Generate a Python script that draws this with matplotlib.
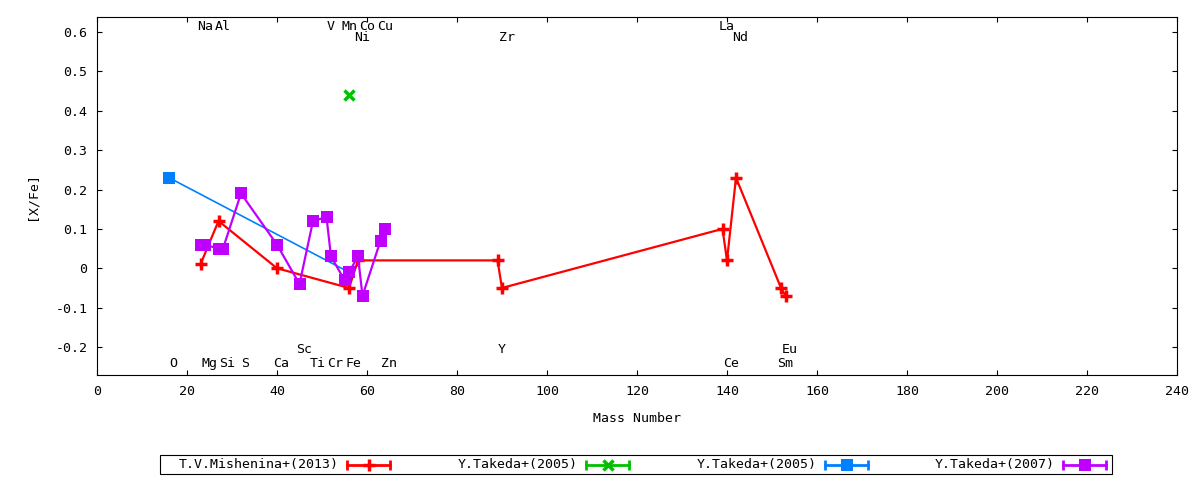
import matplotlib
matplotlib.use("Agg")
import matplotlib.pyplot as plt
from matplotlib.lines import Line2D
from matplotlib.patches import Rectangle
from matplotlib.ticker import FuncFormatter

plt.rcParams['font.family'] = ['DejaVu Sans Mono']
plt.rcParams['font.size'] = 9.5

# data
mish_mass = [23, 27, 40, 56, 58, 89, 90, 139, 140, 142, 152, 153]
mish_val = [0.01, 0.12, 0.00, -0.05, 0.02, 0.02, -0.05, 0.10, 0.02, 0.23, -0.05, -0.07]

tak05a_mass = [56]
tak05a_val = [0.44]

tak05b_mass = [16, 56]
tak05b_val = [0.23, -0.01]

tak07_mass = [23, 24, 27, 28, 32, 40, 45, 48, 51, 52, 55, 56, 58, 59, 63, 64]
tak07_val = [0.06, 0.06, 0.05, 0.05, 0.19, 0.06, -0.04, 0.12, 0.13, 0.03,
             -0.03, -0.01, 0.03, -0.07, 0.07, 0.10]

# element labels: name, mass number, row
elem_names = ['Na', 'Al', 'V', 'Mn', 'Co', 'Cu', 'La',
              'Ni', 'Zr', 'Nd',
              'O', 'Mg', 'Si', 'S', 'Ca', 'Ti', 'Cr', 'Fe', 'Zn', 'Ce', 'Sm',
              'Sc', 'Y', 'Eu']
elem_mass = [23, 27, 51, 55, 59, 63, 139,
             58, 90, 142,
             16, 24, 28, 32, 40, 48, 52, 56, 64, 140, 152,
             45, 89, 153]
elem_row = ['t1'] * 7 + ['t2'] * 3 + ['b1'] * 11 + ['b2'] * 3

series_labels = ['T.V.Mishenina+(2013)', 'Y.Takeda+(2005)', 'Y.Takeda+(2005)', 'Y.Takeda+(2007)']
colors = ['#ff0000', '#00c000', '#0080ff', '#c000ff']
markers = ['+', 'x', 's', 's']

fig = plt.figure(figsize=(12, 4.8), dpi=100)
ax = fig.add_axes([97 / 1200, 1 - 375 / 480, 1080 / 1200, 358 / 480])

ax.plot(mish_mass, mish_val, color=colors[0], lw=1.6, marker='+', ms=9, mew=2.5)
ax.plot(tak05a_mass, tak05a_val, color=colors[1], lw=1.6, marker='x', ms=7, mew=2.5)
ax.plot(tak05b_mass, tak05b_val, color=colors[2], lw=1.2, marker='s', ms=8, mew=0)
ax.plot(tak07_mass, tak07_val, color=colors[3], lw=1.6, marker='s', ms=8, mew=0)

row_y = {'t1': 0.613, 't2': 0.587, 'b1': -0.242, 'b2': -0.206}
for name, m, r in zip(elem_names, elem_mass, elem_row):
    ax.text(m + 1, row_y[r], name, ha='center', va='center', fontsize=9.5)

ax.set_xlim(0, 240)
ax.set_ylim(-0.271, 0.638)
ax.set_xticks(range(0, 241, 20))
ax.set_yticks([-0.2, -0.1, 0, 0.1, 0.2, 0.3, 0.4, 0.5, 0.6])
ax.yaxis.set_major_formatter(FuncFormatter(lambda v, p: '%g' % round(v, 2)))
ax.tick_params(direction='in', length=3.5, width=0.8, top=True, right=True,
               labelsize=9.5, pad=7)
for s in ax.spines.values():
    s.set_linewidth(0.8)
ax.set_xlabel('Mass Number', fontsize=9.5, labelpad=10)
ax.set_ylabel('[X/Fe]', fontsize=9.5, labelpad=12)

# legend box drawn like the gnuplot key
fx = lambda px: px / 1200
fy = lambda py: 1 - py / 480
fig.patches.append(Rectangle((fx(160), fy(474)), fx(1112) - fx(160), fy(455) - fy(474),
                             transform=fig.transFigure, fill=False, lw=0.8, color='black'))
text_right = [339, 578, 817, 1055]
for i in range(4):
    yc = fy(464.5)
    fig.text(fx(text_right[i]), yc, series_labels[i], ha='right', va='center', fontsize=9.5)
    x0, x1 = fx(text_right[i] + 8), fx(text_right[i] + 51)
    fig.lines.append(Line2D([x0, x1], [yc, yc], transform=fig.transFigure,
                            color=colors[i], lw=2))
    fig.lines.append(Line2D([x0, x1], [yc, yc], transform=fig.transFigure, ls='none',
                            color=colors[i], marker='|', ms=7, mew=2))
    fig.lines.append(Line2D([(x0 + x1) / 2], [yc], transform=fig.transFigure, ls='none',
                            color=colors[i], marker=markers[i],
                            ms=9 if markers[i] == '+' else (7 if markers[i] == 'x' else 8),
                            mew=2.5 if markers[i] in '+x' else 0))

fig.savefig('out.png', dpi=100, facecolor='white')
